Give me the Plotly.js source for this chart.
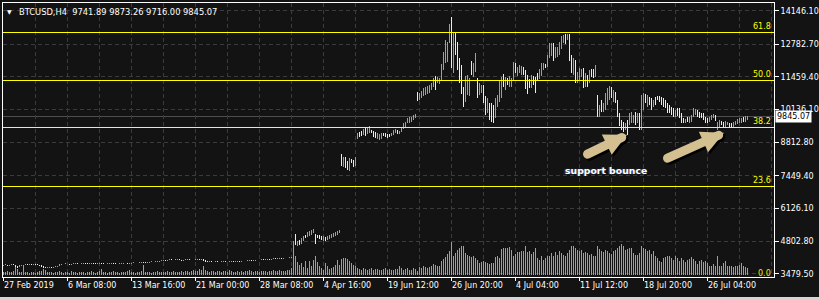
<!DOCTYPE html>
<html>
<head>
<meta charset="utf-8">
<script src="https://cdn.plot.ly/plotly-3.0.1.min.js"></script>
<style>
  html, body { margin:0; padding:0; background:#131313; }
  #chart { width:819px; height:299px; }
  .ohlc path { shape-rendering: crispEdges; }
  .bars path { shape-rendering: crispEdges; }
  .shapelayer path { shape-rendering: crispEdges; }
  .gridlayer path, .minor-gridlayer path { shape-rendering: crispEdges; }
  .annotation-arrow-g path:first-child { stroke-linecap: round; }
</style>
</head>
<body>
<div id="chart"></div>
<script>
// ---------------- DATA ----------------
const symbol = "BTCUSD,H4";
const xTickLabels = ["27 Feb 2019","6 Mar 08:00","13 Mar 16:00","21 Mar 00:00","28 Mar 08:00","4 Apr 16:00","19 Jun 12:00","26 Jun 20:00","4 Jul 04:00","11 Jul 12:00","18 Jul 20:00","26 Jul 04:00"];
const xTickBars = [0,32,64,96,128,160,192,224,256,288,320,352];
const priceTicks = [3479.5,4802.8,6126.1,7449.4,8812.8,10136.1,11459.4,12782.7,14146.1];
const fibLevels = ["61.8","50.0","38.2","23.6"];
const fibPrices = [13271,11327,9427,7033];

// Feb 27 – Apr 1 (bars 0-144)
const marOpen = [3810,3825,3840,3815,3830,3850,3835,3790,3760,3800,
3820,3835,3850,3840,3855,3845,3860,3850,3840,3825,
3780,3740,3720,3735,3750,3730,3745,3770,3790,3850,
3870,3865,3880,3875,3860,3870,3885,3890,3880,3875,
3890,3900,3885,3870,3880,3890,3885,3880,3895,3905,
3890,3880,3870,3885,3895,3900,3890,3880,3875,3885,
3900,3910,3905,3890,3895,3910,3920,3915,3905,3930,
3940,3925,3915,3930,3945,3960,3950,3965,3980,3990,
4010,4030,4020,4035,4050,4040,4030,4045,4055,4040,
4025,4035,4050,4060,4045,4030,4040,4055,4060,4050,
4070,4020,3985,3970,3980,3960,3950,3965,3955,3945,
3960,3970,3955,3950,3965,3975,3960,3965,3980,3975,
3990,4000,3995,4010,4020,4015,4025,4035,4030,4040,
4050,4045,4060,4070,4065,4080,4090,4085,4095,4105,
4100,4110,4120,4115,4125];
const marHigh = [3840,3855,3850,3845,3865,3860,3850,3800,3815,3835,
3850,3865,3860,3870,3865,3875,3870,3860,3850,3835,
3790,3750,3750,3765,3760,3760,3785,3805,3865,3885,
3880,3895,3890,3885,3885,3900,3905,3900,3890,3905,
3915,3910,3895,3895,3905,3900,3895,3910,3920,3915,
3900,3890,3900,3910,3915,3910,3900,3890,3900,3915,
3925,3920,3915,3910,3925,3935,3930,3925,3945,3955,
3950,3935,3945,3960,3975,3970,3980,3995,4005,4025,
4045,4040,4050,4065,4060,4050,4060,4070,4065,4050,
4050,4065,4075,4070,4055,4055,4070,4075,4075,4090,
4085,4030,3995,3995,3990,3970,3980,3975,3965,3975,
3985,3980,3965,3980,3990,3985,3980,3995,3990,4005,
4015,4010,4025,4035,4030,4040,4050,4045,4055,4065,
4060,4075,4085,4080,4095,4105,4100,4110,4120,4115,
4125,4135,4130,4140,4145];
const marLow = [3795,3815,3800,3805,3820,3825,3770,3700,3745,3790,
3810,3825,3830,3830,3835,3835,3840,3825,3810,3765,
3720,3700,3705,3725,3715,3720,3735,3760,3780,3840,
3855,3855,3865,3850,3850,3860,3875,3870,3865,3865,
3880,3875,3860,3860,3870,3875,3870,3870,3885,3880,
3870,3860,3860,3875,3885,3880,3870,3865,3865,3875,
3890,3895,3880,3880,3885,3900,3905,3895,3895,3920,
3915,3905,3905,3920,3935,3940,3940,3955,3970,3980,
4000,4010,4010,4025,4030,4020,4020,4035,4030,4015,
4015,4025,4040,4035,4020,4020,4030,4045,4040,4040,
4005,3965,3955,3960,3950,3935,3940,3945,3935,3935,
3950,3945,3940,3940,3955,3950,3950,3955,3965,3965,
3980,3985,3985,4000,4005,4005,4015,4020,4020,4030,
4035,4035,4050,4055,4055,4070,4075,4075,4085,4090,
4090,4100,4105,4105,4115];
const marClose = [3825,3840,3815,3830,3850,3835,3790,3760,3800,3820,
3835,3850,3840,3855,3845,3860,3850,3840,3825,3780,
3740,3720,3735,3750,3730,3745,3770,3790,3850,3870,
3865,3880,3875,3860,3870,3885,3890,3880,3875,3890,
3900,3885,3870,3880,3890,3885,3880,3895,3905,3890,
3880,3870,3885,3895,3900,3890,3880,3875,3885,3900,
3910,3905,3890,3895,3910,3920,3915,3905,3930,3940,
3925,3915,3930,3945,3960,3950,3965,3980,3990,4010,
4030,4020,4035,4050,4040,4030,4045,4055,4040,4025,
4035,4050,4060,4045,4030,4040,4055,4060,4050,4070,
4020,3985,3970,3980,3960,3950,3965,3955,3945,3960,
3970,3955,3950,3965,3975,3960,3965,3980,3975,3990,
4000,3995,4010,4020,4015,4025,4035,4030,4040,4050,
4045,4060,4070,4065,4080,4090,4085,4095,4105,4100,
4110,4120,4115,4125,4130];

// Apr 2 – Apr 9 (bars 145-168)
const aprOpen  = [4185,4990,4700,4760,4690,4800,5040,4975,5030,5070,5140,5090,5050,4950,4910,4830,4950,4870,4890,4940,4980,5000,5070,5140];
const aprHigh  = [4790,5100,4790,4830,4925,4990,5060,5153,5194,5263,5290,5101,5060,5060,5020,4990,4967,4990,5060,5101,5129,5153,5194,5263];
const aprLow   = [4180,4655,4615,4655,4690,4790,4925,4967,5020,5060,5129,4696,4925,4885,4858,4817,4790,4858,4885,4925,4967,4990,5060,5129];
const aprClose = [4760,4700,4760,4690,4900,4960,4950,5130,5170,5240,5270,4720,4940,4900,4870,4970,4800,4980,5040,5090,5110,5140,5180,5250];

// Jun 13 – Jul 26 (bars 169-372)
const julOpen = [8250,7900,8150,8000,7720,8110,8050,7900,8980,9200,
9220,9150,9380,9170,9230,9300,9250,9180,8980,8960,
8970,9180,9160,9130,9120,9090,9150,9210,9290,9160,
9270,9380,9460,9610,9650,9690,9750,9810,10780,10570,
10650,10740,10790,10830,10860,10980,11100,11400,11250,11220,
11400,11860,12180,12200,12950,13500,11900,13100,12700,12050,
11750,10900,10620,10860,10800,12000,11560,11800,11280,10810,
10860,11010,10560,10090,10280,10270,10210,9920,10340,10600,
10740,11500,11020,11360,11140,11100,11460,11950,11560,11670,
11600,11820,11610,11410,11310,11090,11440,11350,11570,11430,
11590,11790,11960,11950,12310,12390,12740,12290,12320,12430,
12660,12880,13140,12990,13040,12240,11640,12000,11300,11410,
11520,11690,11150,11470,11290,11720,11720,11540,10600,9920,
10460,10110,10220,10420,10610,11000,10530,10800,10430,9910,
9660,9590,9360,9630,9590,9650,9640,9980,9650,9910,
9450,10220,10720,10330,10610,10530,10300,10610,10670,10650,
10590,10550,10480,10360,10280,10210,10140,9890,10150,10130,
9930,9760,9610,9820,9620,9690,9900,9960,10090,10010,
9960,9950,9810,9760,9680,9750,9810,9890,9360,9490,
9660,9610,9480,9530,9590,9580,9480,9540,9580,9610,
9640,9800,9690,9741.89];
const julHigh = [8342,8232,8208,8058,8192,8139,8098,8220,9192,9233,
9261,9342,9448,9383,9476,9314,9285,9221,9180,9152,
9180,9204,9180,9152,9139,9204,9314,9354,9314,9285,
9448,9585,9638,9787,9853,9853,9921,9962,10841,10825,
10906,11003,11068,11096,11137,11230,11408,11501,11448,11408,
11987,12486,12960,12891,13608,13903,13296,13255,12891,12218,
11947,11043,11501,11542,11408,12109,12016,12421,11408,11206,
11137,11137,10691,10598,10395,10395,10326,10598,10732,11339,
11448,11582,11473,11408,11501,11408,12081,12016,11878,11947,
11906,11878,11744,11542,11367,11542,11501,11448,11611,11773,
12040,12040,11987,12352,12826,12826,12850,12688,12664,12891,
13122,13162,13203,13203,13203,12352,12218,12149,11676,11813,
11773,11813,11611,11542,11744,11773,11773,11947,10732,10326,
10529,10395,10800,11003,11096,11068,10934,10866,10529,9990,
9719,9650,9610,9719,9990,10055,9921,10055,9990,10014,
10732,10800,10772,10732,10663,10598,10529,10663,10691,10691,
10638,10598,10529,10420,10326,10258,10193,10124,10193,10193,
9990,9787,9747,9852,9828,9921,10193,10152,10124,10055,
9990,9990,9852,9787,9852,9921,9962,9921,9650,9719,
9690,9650,9690,9650,9610,9610,9650,9690,9747,9787,
9787,9828,9881,9873.26];
const julLow = [7867,7827,7762,7693,7625,7965,7827,7867,8937,9042,
9071,9111,9083,9139,9180,9204,9018,9002,8937,8922,
8937,9071,9042,8990,9018,9071,9123,9180,9152,9139,
9245,9342,9423,9585,9610,9650,9719,9787,10500,10529,
10598,10691,10732,10772,10800,10934,11043,10934,11206,11177,
11311,11744,12040,12081,12826,11813,11635,12352,11744,11206,
10772,10258,10460,10732,10691,11542,11473,11676,10598,10732,
10800,10395,9921,9990,9719,9650,9610,9787,10258,10460,
10598,11068,10934,11137,11068,11043,11339,11611,11501,11611,
11542,11542,10962,10772,11003,11003,11137,10825,11339,11367,
11501,11744,11813,11878,12218,12312,12121,12218,12259,12352,
12583,12826,12798,12960,12121,11611,11542,11206,11230,11339,
11473,11003,11068,11068,11206,11448,11408,11473,9852,9852,
10055,10055,10124,10326,10529,10598,10460,10395,9852,9476,
9314,9245,9314,9111,9516,9585,9585,9516,9585,9314,
9314,10124,10395,10258,10326,10124,10258,10326,10529,10460,
10326,10258,10193,9990,9990,9921,9852,9852,9881,9787,
9585,9585,9585,9650,9585,9650,9852,9921,9852,9787,
9787,9719,9585,9585,9650,9719,9787,9690,9314,9448,
9516,9383,9448,9516,9448,9383,9448,9516,9557,9585,
9610,9650,9650,9716.00];
const julClose = [7950,8150,7830,7750,8100,8000,7880,8180,9150,9080,
9100,9300,9130,9350,9430,9220,9060,9030,9140,9120,
9150,9100,9070,9020,9040,9180,9290,9330,9180,9260,
9420,9550,9600,9760,9820,9830,9890,9940,10560,10780,
10860,10950,11010,11040,11080,11180,11350,11030,11400,11360,
11880,12380,12820,12760,13480,12150,13000,12500,11900,11380,
10950,10400,11330,11400,11290,11640,11930,12300,10730,11130,
11080,10520,10050,10500,9830,9770,9730,10460,10650,11190,
11310,11150,11380,11180,11430,11350,11960,11680,11810,11890,
11850,11600,11090,10900,11060,11450,11200,10930,11380,11700,
11950,11990,11840,12270,12720,12740,12230,12610,12600,12800,
13030,13110,12860,13160,12280,11720,12110,11350,11610,11740,
11730,11120,11530,11140,11660,11500,11460,11880,9990,10250,
10130,10340,10700,10900,11010,10670,10860,10460,9950,9550,
9370,9310,9560,9200,9920,9990,9870,9600,9930,9420,
10600,10700,10450,10660,10380,10200,10480,10380,10560,10500,
10380,10310,10250,10060,10040,9970,9900,10080,9930,9850,
9650,9620,9720,9680,9790,9880,10140,10120,9890,9830,
9820,9760,9620,9610,9820,9890,9940,9720,9600,9680,
9540,9420,9650,9630,9470,9420,9620,9670,9720,9760,
9760,9680,9850,9845.07];

// tick volumes
const marVolume = [300,250,400,300,250,350,800,600,300,250,
830,300,250,200,300,250,200,300,350,400,
600,450,300,250,300,200,250,300,350,250,
200,300,250,200,350,300,250,200,300,250,
300,200,250,300,350,250,200,300,350,600,
300,250,200,300,250,350,300,250,200,300,
250,300,350,450,300,250,200,300,250,350,
1000,300,250,300,200,250,300,350,250,300,
250,300,350,250,300,400,300,250,300,350,
300,400,350,300,400,450,350,400,600,500,
830,450,350,300,400,350,300,400,350,300,
400,350,300,500,350,300,250,400,300,350,
300,350,400,500,350,300,350,400,300,350,
400,350,300,400,350,500,400,350,450,400,
350,400,500,450,700];
const aprVolume = [2770,1900,1300,1000,1200,800,1330,670,1330,900,1450,1830,1230,830,670,500,1170,830,570,670,770,1000,1500,1000];
const julVolume = [1600,1670,1670,1570,1330,1170,1000,830,
670,570,500,670,600,500,570,670,500,600,570,500,430,570,670,500,570,430,500,600,570,830,670,500,570,670,500,
500,667,567,333,767,667,833,767,700,767,
900,1100,1000,833,900,1367,1567,1767,2033,2333,
3233,1900,2167,2433,2667,2833,2900,2167,2000,1833,
1767,1900,1667,1433,1167,1233,1333,1233,1167,1100,
1167,1167,1767,1833,1667,2567,2667,2667,2667,2767,
2500,1900,2100,2233,2233,2333,2333,2833,2233,2333,
2100,2233,2667,1667,1433,1900,1500,1667,1833,1900,
2167,1900,2233,2000,2333,2167,2000,1833,2167,2433,
2833,2900,2667,2433,2333,2433,2167,2233,2167,2000,
2100,1900,1833,2900,2567,2333,2233,2500,2333,2167,
2100,2333,2500,2667,2833,3100,2900,2433,2567,2667,
2667,2167,2000,2000,2167,2900,2667,2567,2333,2433,
2100,2333,1900,1667,1333,1233,1667,1767,1833,1900,
1667,1433,1900,1667,1333,1667,1433,1233,1433,1567,
1767,1567,1333,1100,1333,1433,1233,1333,1167,833,
900,1100,900,1900,900,833,1167,1333,900,833,
900,767,833,900,1000,1167,833,767,667];

// ---------------- BUILD ----------------
const open  = marOpen.concat(aprOpen, julOpen);
const high  = marHigh.concat(aprHigh, julHigh);
const low   = marLow.concat(aprLow, julLow);
const close = marClose.concat(aprClose, julClose);
const volume = marVolume.concat(aprVolume, julVolume);
const n = close.length;
const bars = close.map((_, i) => i);

const OLIVE = '#a3b522';
const WHITE = '#ececec';
const GRID = '#3b3b3b';
const FONT = 'DejaVu Sans, Verdana, sans-serif';

const last = n - 1;
const titleText = symbol + '\u00a0\u00a0' + [open[last], high[last], low[last], close[last]].map(v => v.toFixed(2)).join(' ');

const traces = [
  {
    type: 'bar', x: bars.slice(0, volume.length), y: volume,
    width: 0.5, marker: {color: OLIVE, line: {width: 0}},
    yaxis: 'y', xaxis: 'x', hoverinfo: 'skip'
  },
  {
    type: 'ohlc', x: bars, open: open, high: high, low: low, close: close,
    yaxis: 'y2', xaxis: 'x', tickwidth: 0,
    increasing: {line: {color: OLIVE, width: 1}},
    decreasing: {line: {color: WHITE, width: 1}},
    hoverinfo: 'skip'
  }
];

// plot geometry helpers (pixels inside plot area)
const PL = 3, PR = 774, PT = 3, PB = 277.3;
const px = x => (x - PL) / (PR - PL);
const py = y => (PB - y) / (PB - PT);

const shapes = fibPrices.map(p => ({
  type: 'line', xref: 'paper', x0: 0, x1: 1, yref: 'y2', y0: p, y1: p,
  line: {color: '#ffff00', width: 1}
}));
shapes.unshift({
  type: 'line', xref: 'paper', x0: 0, x1: 1, yref: 'y2', y0: close[last], y1: close[last],
  line: {color: '#4e4e4e', width: 1}, layer: 'below'
});
// window frame strip at the very bottom
shapes.push({
  type: 'rect', xref: 'paper', yref: 'paper',
  x0: px(0), x1: px(819), y0: py(299), y1: py(297),
  line: {width: 0}, fillcolor: '#d6d6d6'
});

const annotations = [];
fibLevels.forEach((t, k) => annotations.push({
  text: t, xref: 'paper', x: 1, xanchor: 'right', xshift: -1,
  yref: 'y2', y: fibPrices[k], yanchor: 'bottom', yshift: -1,
  showarrow: false, font: {family: FONT, size: 8, color: '#ffff00'}
}));
annotations.push({
  text: '0.0', xref: 'paper', x: 1, xanchor: 'right', xshift: -1,
  yref: 'y', y: 0, yanchor: 'middle', yshift: 1,
  showarrow: false, font: {family: FONT, size: 8, color: '#e8e800'}
});
annotations.push({
  text: close[last].toFixed(2), xref: 'paper', x: 1, xanchor: 'left', xshift: 1,
  yref: 'y2', y: close[last], yanchor: 'middle',
  showarrow: false, bgcolor: '#ffffff', borderpad: 1,
  font: {family: FONT, size: 8, color: '#000000'}
});
annotations.push({
  text: '\u25BC', xref: 'paper', x: px(9.5), xanchor: 'center',
  yref: 'paper', y: py(12), yanchor: 'middle',
  showarrow: false, font: {family: FONT, size: 6, color: '#ffffff'}
});
annotations.push({
  text: titleText, xref: 'paper', x: px(17), xanchor: 'left',
  yref: 'paper', y: py(12), yanchor: 'middle',
  showarrow: false, font: {family: FONT, size: 8.3, color: '#ffffff'}
});
// arrows (shadow then body)
const arrows = [
  {tip: [627, 135], tail: [586, 155]},
  {tip: [724, 133], tail: [666, 159]}
];
arrows.forEach(a => {
  [[2, 2, '#000000'], [0, 0, '#d3bf90']].forEach(([dx, dy, col]) => {
    annotations.push({
      text: '', xref: 'paper', yref: 'paper',
      x: px(a.tip[0] + dx), y: py(a.tip[1] + dy),
      ax: a.tail[0] - a.tip[0], ay: a.tail[1] - a.tip[1],
      showarrow: true, arrowhead: 2, arrowsize: 0.5, arrowwidth: 9,
      arrowcolor: col, standoff: 0, startstandoff: 0
    });
  });
});
annotations.push({
  text: 'support bounce', xref: 'paper', x: px(606), xanchor: 'center',
  yref: 'paper', y: py(171), yanchor: 'middle',
  showarrow: false,
  font: {family: FONT, size: 9.3, color: '#ffffff', weight: 'bold', shadow: '-1px 0px 1px #3b5ba8'}
});

const layout = {
  width: 819, height: 299,
  margin: {l: PL, r: 819 - PR, t: PT, b: 299 - PB, pad: 0},
  paper_bgcolor: '#131313', plot_bgcolor: '#131313',
  showlegend: false, dragmode: false, hovermode: false,
  font: {family: FONT, size: 8, color: '#ffffff'},
  xaxis: {
    type: 'linear', range: [0, 385.5], fixedrange: true, automargin: false,
    tickmode: 'array', tickvals: xTickBars, ticktext: xTickLabels,
    ticks: 'outside', ticklen: 3, tickcolor: '#ffffff', tickwidth: 1,
    ticklabelposition: 'outside right',
    tickfont: {family: FONT, size: 8, color: '#ffffff'},
    showline: true, linecolor: '#ffffff', linewidth: 1, mirror: true,
    showgrid: true, gridcolor: GRID, griddash: '4px,3px', gridwidth: 1,
    minor: {tickmode: 'linear', tick0: 0, dtick: 16, showgrid: true, gridcolor: GRID, griddash: '4px,3px', gridwidth: 1, ticks: ''},
    zeroline: false,
    rangeslider: {visible: false}
  },
  yaxis: {
    range: [-230, 27200], visible: false, fixedrange: true, automargin: false,
    showgrid: false, zeroline: false
  },
  yaxis2: {
    overlaying: 'y', side: 'right', anchor: 'x',
    range: [3346, 14458], fixedrange: true, automargin: false,
    tickmode: 'array', tickvals: priceTicks, tickformat: '.2f',
    ticks: 'outside', ticklen: 4, tickcolor: '#ffffff', tickwidth: 1,
    tickfont: {family: FONT, size: 8, color: '#ffffff'},
    showline: true, linecolor: '#ffffff', linewidth: 1, mirror: true,
    showgrid: true, gridcolor: GRID, griddash: '4px,3px', gridwidth: 1,
    zeroline: false
  },
  shapes: shapes,
  annotations: annotations
};

Plotly.newPlot('chart', traces, layout, {staticPlot: true, displayModeBar: false});
</script>
</body>
</html>
